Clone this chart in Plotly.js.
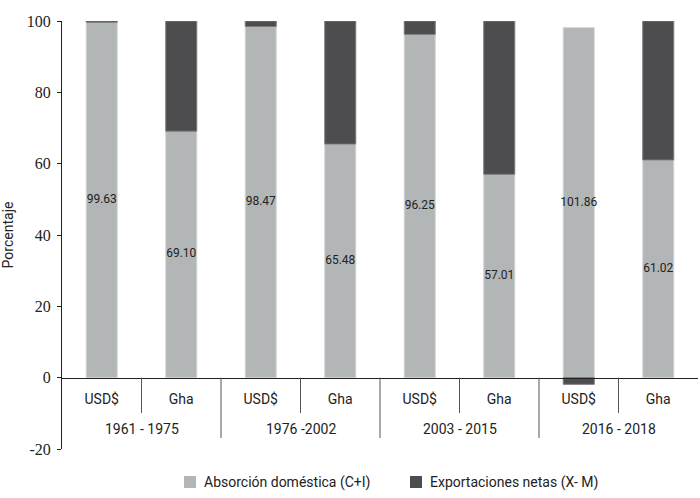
<!DOCTYPE html>
<html>
<head>
<meta charset="utf-8">
<script src="https://cdn.plot.ly/plotly-3.0.1.min.js"></script>
<style>
  html, body { margin: 0; padding: 0; background: #fff; }
  #plotDiv { width: 700px; height: 498px; }
</style>
</head>
<body>
<div id="plotDiv"></div>
<script>
'use strict';

// one entry per bar
const periods = ['1961 - 1975', '1961 - 1975', '1976 -2002', '1976 -2002',
                 '2003 - 2015', '2003 - 2015', '2016 - 2018', '2016 - 2018'];
const currency = ['USD$', 'Gha', 'USD$', 'Gha', 'USD$', 'Gha', 'USD$', 'Gha'];

// bar heights as drawn in the picture
const absorcion = [99.63, 69.10, 98.47, 65.48, 96.25, 57.01, 98.14, 61.02];
const exportaciones = [0.37, 30.90, 1.53, 34.52, 3.75, 42.99, -1.86, 38.98];

// labels printed on the light bars
const absorcionLabels = ['99.63', '69.10', '98.47', '65.48', '96.25', '57.01', '101.86', '61.02'];

const seriesNames = ['Absorción doméstica (C+I)', 'Exportaciones netas (X- M)'];
const seriesColors = ['#b3b6b6', '#4d4d4f'];

const yTicks = [-20, 0, 20, 40, 60, 80, 100];

const sansFont = 'Roboto, Liberation Sans, sans-serif';
const serifFont = 'Liberation Serif, DejaVu Serif, serif';
const textColor = '#222';

const W = 700, H = 498, T = 21, L = 62, R = 2;
const paperH = H - T;          // no bottom margin, legend lives inside the paper
const paperW = W - L - R;
const yBottom = 449;           // pixel row of y = -20
const yMin = -20, yMax = 100;

// pixel -> paper fraction
function py(p) { return (H - p) / paperH; }
function px(p) { return (p - L) / paperW; }

const yDomain = [py(yBottom), 1];
const zeroPos = yDomain[0] + (yDomain[1] - yDomain[0]) * (0 - yMin) / (yMax - yMin);

// bar slots 0..7
const slots = currency.map(function (c, i) { return i; });

var data = [
    {
        type: 'bar',
        name: seriesNames[0],
        x: slots,
        y: absorcion,
        marker: {color: seriesColors[0], line: {color: '#d2d4d4', width: 1}},
        hoverinfo: 'skip'
    },
    {
        type: 'bar',
        name: seriesNames[1],
        x: slots,
        y: exportaciones,
        marker: {color: seriesColors[1], line: {color: '#7a7a7c', width: 1}},
        hoverinfo: 'skip'
    },
    {
        type: 'scatter',
        mode: 'text',
        x: slots,
        y: absorcion.map(function (v) { return v / 2; }),
        text: absorcionLabels,
        textposition: 'middle center',
        textfont: {family: sansFont, size: 12, color: textColor},
        hoverinfo: 'skip'
    }
];

// group labels and separators under the axis
var annotations = [];
var shapes = [];
for (var i = 0; i < periods.length; i += 2) {
    annotations.push({
        xref: 'x', yref: 'paper',
        x: i + 0.5, y: py(429),
        text: periods[i],
        showarrow: false,
        xanchor: 'center', yanchor: 'middle',
        font: {family: sansFont, size: 14, color: textColor}
    });
    // between USD$ and Gha
    shapes.push({
        type: 'line', xref: 'x', yref: 'paper',
        x0: i + 0.5, x1: i + 0.5, y0: zeroPos, y1: py(413),
        line: {color: '#555', width: 1}
    });
    // between periods
    if (i + 2 < periods.length) {
        shapes.push({
            type: 'line', xref: 'x', yref: 'paper',
            x0: i + 1.5, x1: i + 1.5, y0: zeroPos, y1: py(438),
            line: {color: '#555', width: 1}
        });
    }
}

// legend drawn by hand below the axis
const legendLeft = [184, 410];
for (var k = 0; k < seriesNames.length; k++) {
    shapes.push({
        type: 'rect', xref: 'paper', yref: 'paper',
        x0: px(legendLeft[k]), x1: px(legendLeft[k] + 12),
        y0: py(488), y1: py(476),
        fillcolor: seriesColors[k],
        line: {width: 0}
    });
    annotations.push({
        xref: 'paper', yref: 'paper',
        x: px(legendLeft[k] + 18), y: py(482),
        text: seriesNames[k],
        showarrow: false,
        xanchor: 'left', yanchor: 'middle',
        font: {family: sansFont, size: 14, color: textColor}
    });
}

var layout = {
    width: W,
    height: H,
    paper_bgcolor: '#fff',
    plot_bgcolor: '#fff',
    font: {family: sansFont, size: 14, color: textColor},
    margin: {l: L, r: R, t: T, b: 0, pad: 0, autoexpand: false},
    barmode: 'relative',
    bargap: 0.61,
    showlegend: false,
    xaxis: {
        type: 'linear',
        range: [-0.5, slots.length - 0.5],
        anchor: 'free',
        position: zeroPos,
        showline: true,
        linecolor: '#222',
        linewidth: 1,
        tickvals: slots,
        ticktext: currency,
        ticks: '',
        ticklabelstandoff: 9,
        showgrid: false,
        zeroline: false,
        tickfont: {family: sansFont, size: 14, color: textColor}
    },
    yaxis: {
        domain: yDomain,
        range: [yMin, yMax],
        tickvals: yTicks,
        ticktext: yTicks.map(String),
        ticks: 'outside',
        ticklen: 4,
        tickcolor: '#222',
        ticklabelstandoff: 3,
        showline: true,
        linecolor: '#222',
        linewidth: 1,
        showgrid: false,
        zeroline: false,
        tickfont: {family: serifFont, size: 16, color: textColor},
        title: {text: 'Porcentaje', font: {family: sansFont, size: 14, color: textColor}, standoff: 12}
    },
    annotations: annotations,
    shapes: shapes
};

Plotly.newPlot('plotDiv', data, layout, {displayModeBar: false, staticPlot: true});
</script>
</body>
</html>
